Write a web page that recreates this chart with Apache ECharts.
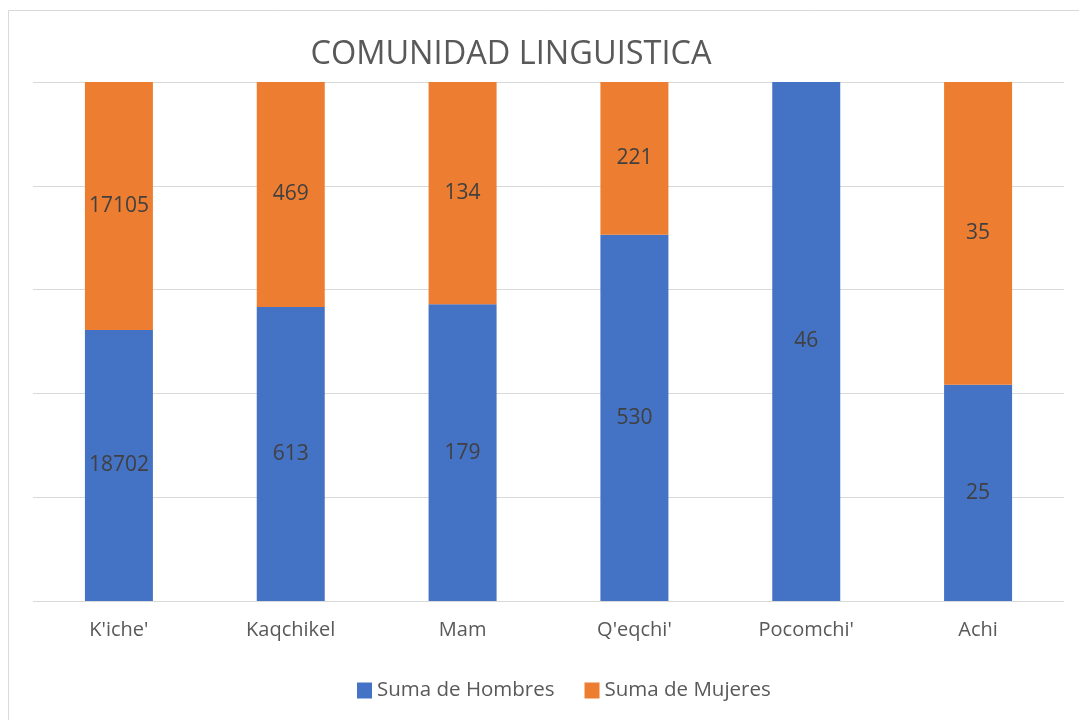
<!DOCTYPE html>
<html>
<head>
<meta charset="utf-8">
<script src="https://cdn.jsdelivr.net/npm/echarts@6/dist/echarts.min.js"></script>
<style>
  html, body { margin: 0; padding: 0; background: #fff; }
  #chart { width: 1079px; height: 720px; }
</style>
</head>
<body>
<div id="chart"></div>
<script>
// datos de la tabla dinámica
var comunidades = ["K'iche'", 'Kaqchikel', 'Mam', "Q'eqchi'", "Pocomchi'", 'Achi'];
var hombres = [18702, 613, 179, 530, 46, 25];
var mujeres = [17105, 469, 134, 221, 0, 35];

// columnas apiladas al 100%
function pct(arr, i) {
    var total = hombres[i] + mujeres[i];
    return total ? arr[i] / total : 0;
}
var hombresPct = hombres.map(function(v, i) { return pct(hombres, i); });
var mujeresPct = mujeres.map(function(v, i) { return pct(mujeres, i); });

var myChart = echarts.init(document.getElementById('chart'));

function etiqueta(raw) {
    return {
        show: true,
        position: 'inside',
        color: '#404040',
        fontSize: 21,
        fontFamily: 'Open Sans',
        formatter: function(p) {
            var v = raw[p.dataIndex];
            return v ? String(v) : '';
        }
    };
}

var option = {
    animation: false,
    backgroundColor: '#fff',
    graphic: [{
        type: 'rect',
        shape: { x: 8.5, y: 10.5, width: 1090, height: 730 },
        style: { fill: 'none', stroke: '#d9d9d9', lineWidth: 1 },
        silent: true
    }],
    title: {
        text: 'COMUNIDAD LINGUISTICA',
        left: 506,
        textAlign: 'center',
        top: 33,
        textStyle: {
            color: '#595959',
            fontSize: 32.5,
            fontWeight: 'normal',
            fontFamily: 'Open Sans'
        }
    },
    legend: {
        top: 675,
        left: 352,
        itemWidth: 15,
        itemHeight: 16,
        itemGap: 30,
        icon: 'rect',
        textStyle: { color: '#595959', fontSize: 20.5, fontFamily: 'Open Sans' },
        data: ['Suma de Hombres', 'Suma de Mujeres']
    },
    grid: { left: 33, right: 15, top: 82, bottom: 119 },
    xAxis: {
        type: 'category',
        data: comunidades,
        axisLine: { show: false },
        axisTick: { show: false },
        axisLabel: { color: '#595959', fontSize: 20, fontFamily: 'Open Sans', margin: 19 }
    },
    yAxis: {
        type: 'value',
        min: 0,
        max: 1,
        interval: 0.2,
        axisLabel: { show: false },
        axisLine: { show: false },
        axisTick: { show: false },
        splitLine: { lineStyle: { color: '#d9d9d9', width: 1 } }
    },
    series: [{
        name: 'Suma de Hombres',
        type: 'bar',
        stack: 'total',
        barWidth: 68,
        itemStyle: { color: '#4472C4' },
        label: etiqueta(hombres),
        data: hombresPct
    }, {
        name: 'Suma de Mujeres',
        type: 'bar',
        stack: 'total',
        barWidth: 68,
        itemStyle: { color: '#ED7D31' },
        label: etiqueta(mujeres),
        data: mujeresPct
    }]
};
myChart.setOption(option);
</script>
</body>
</html>
